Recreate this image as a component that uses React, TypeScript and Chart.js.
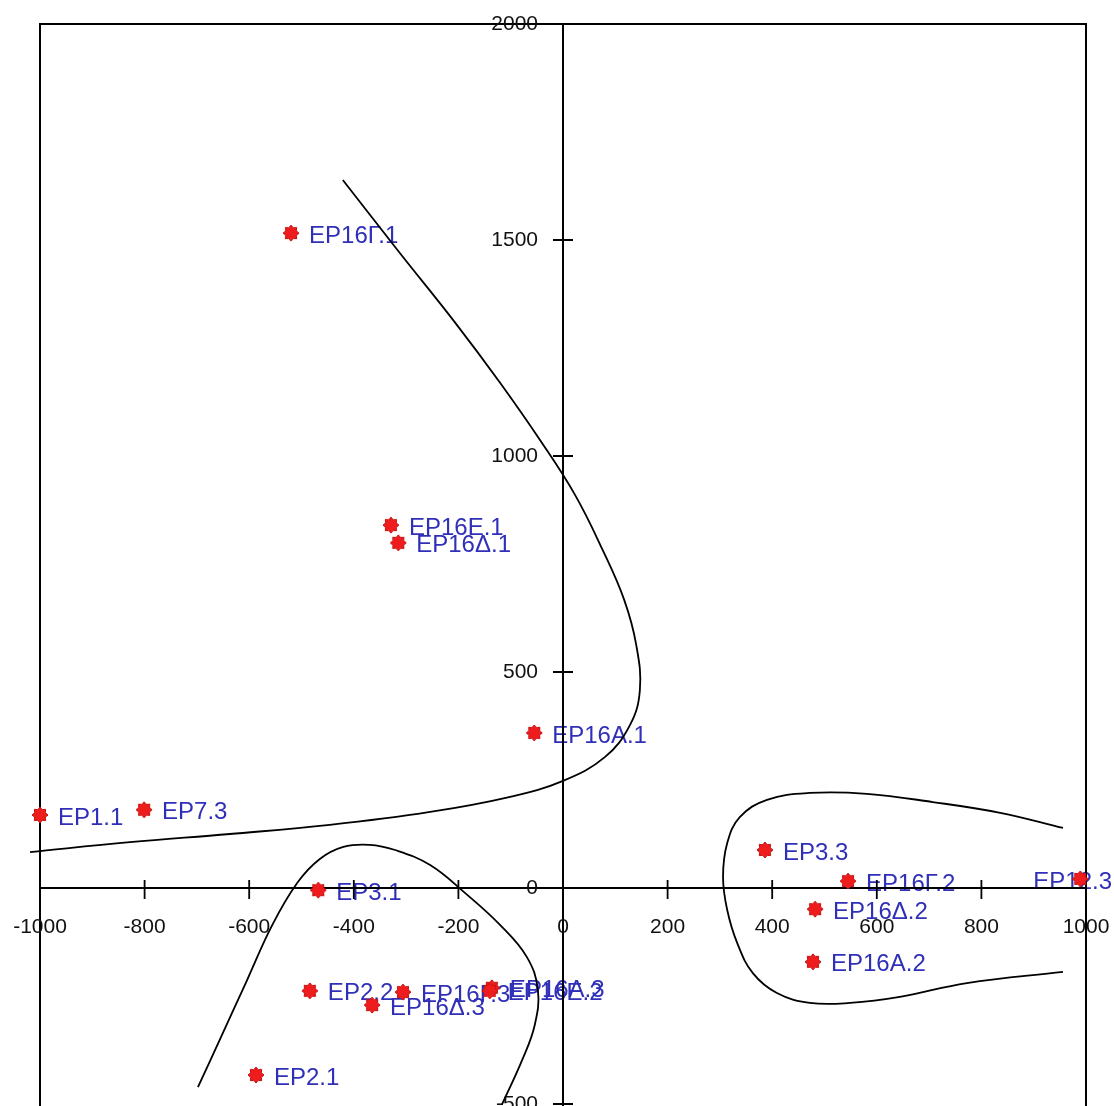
import React, { useEffect, useRef } from "react";
import { Chart, registerables } from "chart.js";

Chart.register(...registerables);

// ---- data ----
const pointLabels = [
  "ΕΡ16Γ.1", "ΕΡ16Ε.1", "ΕΡ16Δ.1", "ΕΡ16Α.1", "ΕΡ1.1", "ΕΡ7.3", "ΕΡ3.1", "ΕΡ3.3", "ΕΡ16Γ.2",
  "ΕΡ12.3", "ΕΡ16Δ.2", "ΕΡ16Α.2", "ΕΡ2.2", "ΕΡ16Δ.3", "ΕΡ16Γ.3", "ΕΡ16Α.3", "ΕΡ16Ε.2", "ΕΡ2.1",
];
const pointX = [-520, -329, -315, -55, -1000, -801, -468, 386, 545, 989, 482, 478, -484, -365, -306, -136, -140, -587];
const pointY = [1516, 840, 799, 359, 169, 181, -5, 88, 16, 21, -49, -171, -238, -271, -241, -231, -238, -433];

const xTickValues = [-1000, -800, -600, -400, -200, 0, 200, 400, 600, 800, 1000];
const yTickValues = [-500, 0, 500, 1000, 1500, 2000];

// boundary curve through the upper-left region
const curveAX = [-1019, -828, -637, -446, -254, -101, 0, 80, 128, 147, 140, 117, 76, 23, -44, -120, -207, -312, -421];
const curveAY = [83, 106, 125, 146, 176, 211, 248, 303, 377, 458, 563, 667, 782, 910, 1037, 1169, 1310, 1470, 1639];

// arch in the lower-left region
const curveBX = [-698, -652, -604, -556, -508, -465, -420, -370, -321, -254, -187, -120, -69, -48, -54, -78, -117];
const curveBY = [-461, -340, -213, -86, 12, 67, 95, 100, 88, 53, -12, -86, -160, -236, -317, -398, -502];

// loop in the lower-right region
const curveCX = [956, 836, 707, 581, 472, 390, 338, 314, 306, 314, 333, 363, 409, 472, 549, 644, 772, 956];
const curveCY = [139, 174, 199, 218, 220, 204, 164, 104, 25, -51, -127, -197, -243, -266, -266, -252, -220, -194];

const FONT = '"Liberation Sans", Arial, sans-serif';

function zip(xs: number[], ys: number[]) {
  return xs.map((x, i) => ({ x, y: ys[i] }));
}

function makeMarker(): HTMLCanvasElement {
  const c = document.createElement("canvas");
  c.width = 18;
  c.height = 18;
  const g = c.getContext("2d")!;
  g.beginPath();
  for (let i = 0; i < 16; i++) {
    const a = (i * Math.PI) / 8;
    const r = i % 2 === 0 ? 8 : 5.8;
    const px = 9 + r * Math.cos(a);
    const py = 9 + r * Math.sin(a);
    if (i === 0) g.moveTo(px, py);
    else g.lineTo(px, py);
  }
  g.closePath();
  g.fillStyle = "#ee1c1c";
  g.fill();
  g.strokeStyle = "#c41212";
  g.lineWidth = 1;
  g.stroke();
  return c;
}

const overlayPlugin = {
  id: "overlay",
  beforeDatasetsDraw(chart: any) {
    const ctx = chart.ctx as CanvasRenderingContext2D;
    const xs = chart.scales.x;
    const ys = chart.scales.y;
    const area = chart.chartArea;
    const H = chart.height;
    const W = chart.width;
    ctx.save();

    // point labels (under everything else)
    ctx.font = `24px ${FONT}`;
    ctx.fillStyle = "#2f2fb8";
    ctx.textBaseline = "middle";
    ctx.textAlign = "left";
    const meta = chart.getDatasetMeta(0);
    meta.data.forEach((el: any, i: number) => {
      const text = pointLabels[i];
      const w = ctx.measureText(text).width;
      let lx = el.x + 18;
      if (lx + w > W - 2) lx = W - 2 - w;
      ctx.fillText(text, lx, el.y + 3);
    });

    // frame
    ctx.strokeStyle = "#000";
    ctx.lineWidth = 2;
    ctx.beginPath();
    ctx.moveTo(area.left, H);
    ctx.lineTo(area.left, area.top);
    ctx.lineTo(area.right, area.top);
    ctx.lineTo(area.right, H);
    ctx.stroke();

    // axes through the origin
    const x0 = xs.getPixelForValue(0);
    const y0 = ys.getPixelForValue(0);
    ctx.beginPath();
    ctx.moveTo(area.left, y0);
    ctx.lineTo(area.right, y0);
    ctx.moveTo(x0, area.top);
    ctx.lineTo(x0, H);
    ctx.stroke();

    // tick marks
    ctx.lineWidth = 1.8;
    ctx.beginPath();
    xTickValues.forEach((v) => {
      const px = xs.getPixelForValue(v);
      ctx.moveTo(px, y0 - 8);
      ctx.lineTo(px, y0 + 11);
    });
    yTickValues.forEach((v) => {
      const py = ys.getPixelForValue(v);
      ctx.moveTo(x0 - 10, py);
      ctx.lineTo(x0 + 10, py);
    });
    ctx.stroke();

    // tick labels
    ctx.font = `21px ${FONT}`;
    ctx.fillStyle = "#111";
    ctx.textAlign = "center";
    ctx.textBaseline = "middle";
    xTickValues.forEach((v) => {
      ctx.fillText(String(v), xs.getPixelForValue(v), y0 + 39);
    });
    ctx.textAlign = "right";
    yTickValues.forEach((v) => {
      ctx.fillText(String(v), x0 - 25, ys.getPixelForValue(v));
    });

    ctx.restore();
  },
};

export default function App() {
  const canvasRef = useRef<HTMLCanvasElement | null>(null);

  useEffect(() => {
    const canvas = canvasRef.current;
    if (!canvas) return;
    const marker = makeMarker();
    const curveStyle = {
      showLine: true,
      pointRadius: 0,
      pointHoverRadius: 0,
      borderColor: "#000",
      borderWidth: 1.8,
      backgroundColor: "transparent",
      fill: false,
      tension: 0.4,
      clip: false as any,
    };
    const chart = new Chart(canvas, {
      type: "scatter",
      data: {
        datasets: [
          {
            label: "points",
            data: zip(pointX, pointY),
            pointStyle: marker as any,
            pointRadius: 8,
            showLine: false,
            clip: false as any,
          },
          { label: "curveA", data: zip(curveAX, curveAY), ...curveStyle },
          { label: "curveB", data: zip(curveBX, curveBY), ...curveStyle },
          { label: "curveC", data: zip(curveCX, curveCY), ...curveStyle },
        ],
      },
      options: {
        responsive: false,
        animation: false,
        devicePixelRatio: 1,
        layout: { autoPadding: false, padding: { left: 40, right: 28, top: 24, bottom: 2 } },
        plugins: {
          legend: { display: false },
          tooltip: { enabled: false },
        },
        scales: {
          x: { type: "linear", min: -1000, max: 1000, display: false },
          y: { type: "linear", min: -500, max: 2000, display: false },
        },
      },
      plugins: [overlayPlugin],
    });
    return () => chart.destroy();
  }, []);

  return (
    <div style={{ position: "absolute", left: 0, top: 0, width: 1114, height: 1106, background: "#fff" }}>
      <canvas ref={canvasRef} width={1114} height={1106} style={{ display: "block" }} />
    </div>
  );
}
